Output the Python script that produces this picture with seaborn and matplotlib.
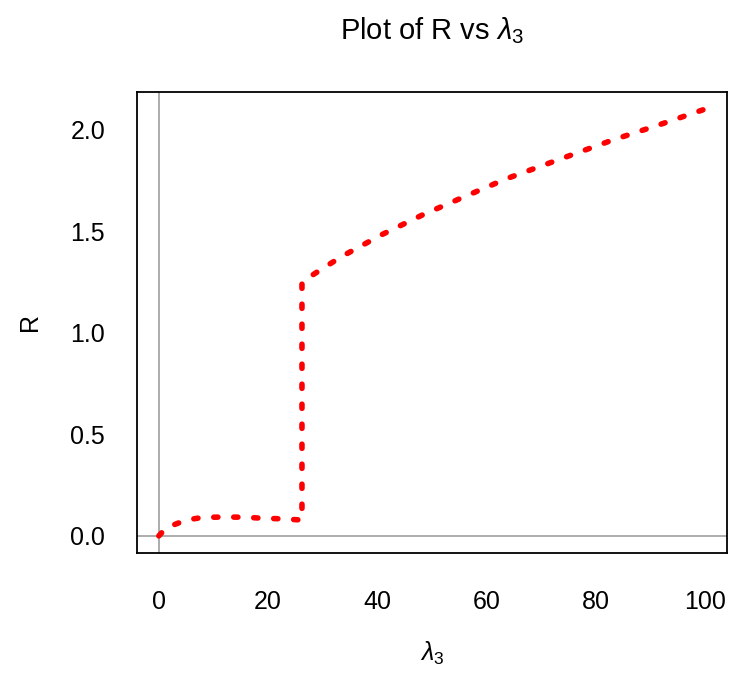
import matplotlib
matplotlib.use("Agg")
import matplotlib.pyplot as plt
import seaborn as sns
import pandas as pd

# data
lam = [0, 1, 2.3, 5, 8, 12, 15.5, 19, 22.6, 26.2, 26.2, 30, 33.5, 40.8, 48.4,
       56.2, 63.6, 74.9, 83.1, 91.3, 100]
R = [0, 0.03, 0.05, 0.078, 0.091, 0.093, 0.092, 0.087, 0.084, 0.078, 1.25,
     1.316, 1.375, 1.482, 1.581, 1.672, 1.757, 1.868, 1.948, 2.02, 2.1]
xticks = [0, 20, 40, 60, 80, 100]
yticks = [0.0, 0.5, 1.0, 1.5, 2.0]

df = pd.DataFrame({"lam": lam, "R": R})

sns.set_style("white")
plt.rcParams["font.family"] = ["Liberation Sans", "DejaVu Sans"]
plt.rcParams["mathtext.fontset"] = "custom"
plt.rcParams["mathtext.rm"] = "Liberation Sans"
plt.rcParams["mathtext.it"] = "Liberation Sans:italic"
plt.rcParams["text.color"] = "black"
plt.rcParams["axes.labelcolor"] = "black"

fig = plt.figure(figsize=(7.34, 6.86), dpi=100)
ax = fig.add_axes([0.1866, 0.1939, 0.9905 - 0.1866, 0.8659 - 0.1939])

ax.axhline(0, color="#a6a6a6", lw=1.3, zorder=1)
ax.axvline(0, color="#a6a6a6", lw=1.3, zorder=1)

sns.lineplot(data=df, x="lam", y="R", ax=ax, sort=False, estimator=None,
             color="red", lw=4.0, zorder=3)
line = ax.lines[-1]
line.set_linestyle((0, (0.75, 2.85)))
line.set_dash_capstyle("round")

ax.set_xlim(-4, 104)
ax.set_ylim(-0.084, 2.184)
ax.set_xticks(xticks)
ax.set_xticklabels([str(v) for v in xticks])
ax.set_yticks(yticks)
ax.set_yticklabels([f"{v:.1f}" for v in yticks])

for s in ax.spines.values():
    s.set_visible(True)
    s.set_color("black")
    s.set_linewidth(1.3)

ax.tick_params(axis="both", direction="out", length=11, width=1.1,
               color="#222222", labelsize=18, labelcolor="black")
ax.tick_params(axis="x", pad=16)
ax.tick_params(axis="y", pad=12)

ax.set_xlabel(r"$\lambda_3$", fontsize=18, labelpad=18)
ax.set_ylabel("R", fontsize=18, labelpad=20)
ax.set_title(r"Plot of R vs $\lambda_3$", fontsize=21, pad=38)

fig.savefig("out.png", dpi=100)
